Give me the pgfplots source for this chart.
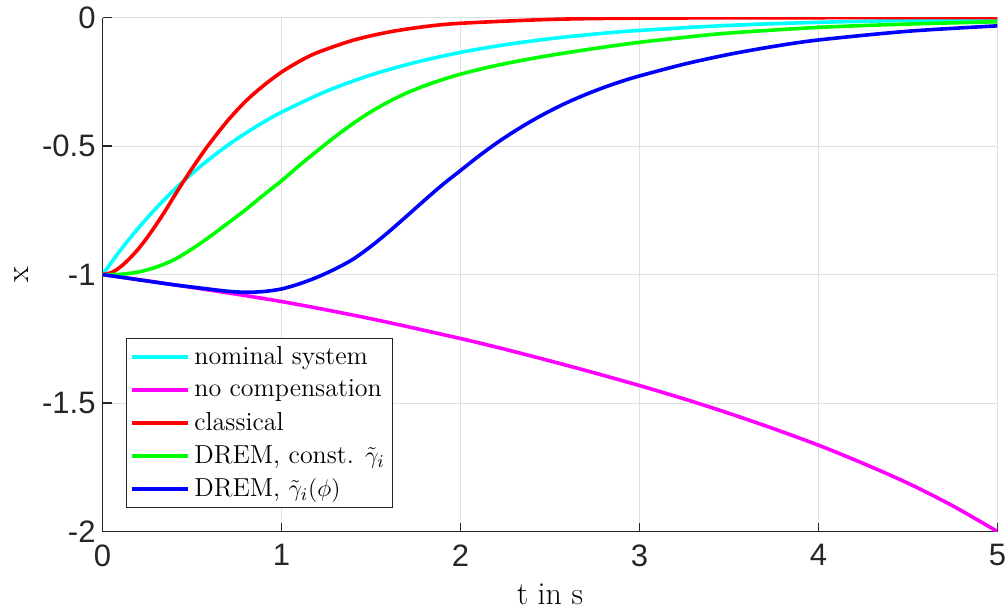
\documentclass[border=0pt]{standalone}
\usepackage{fontspec}
\usepackage{pgfplots}
\pgfplotsset{compat=1.18}
\newfontfamily\ticksfont{Liberation Sans}
\definecolor{axgray}{rgb}{0.15,0.15,0.15}
\definecolor{gridgray}{rgb}{0.88,0.88,0.88}
\definecolor{cyanc}{rgb}{0,1,1}
\definecolor{magc}{rgb}{1,0,1}
\definecolor{redc}{rgb}{1,0,0}
\definecolor{greenc}{rgb}{0,1,0}
\definecolor{bluec}{rgb}{0,0,1}
\begin{document}
\begin{tikzpicture}
\begin{axis}[
  scale only axis,
  width=447.5pt, height=257pt,
  xmin=0, xmax=5, ymin=-2, ymax=0,
  axis x line=bottom, axis y line=left,
  axis line style={-, draw=axgray, line width=0.6pt},
  tick align=inside, major tick length=4.5pt,
  tick style={axgray, line width=0.6pt},
  xtick={0,1,2,3,4,5}, xticklabels={0,1,2,3,4,5},
  ytick={-2,-1.5,-1,-0.5,0}, yticklabels={-2,-1.5,-1,-0.5,0},
  ticklabel style={font=\ticksfont\fontsize{15.5}{18}\selectfont, text=axgray},
  xticklabel style={yshift=-3pt, inner xsep=0pt},
  grid=major, major grid style={gridgray, line width=0.5pt},
  xlabel={t in s}, ylabel={x},
  label style={font=\fontsize{16}{19}\selectfont},
  xlabel style={yshift=-2pt},
  ylabel style={yshift=0pt},
  legend cell align=left,
  legend style={at={(0.026,0.045)}, anchor=south west, draw=axgray, line width=0.5pt,
    font=\fontsize{13}{15}\selectfont, row sep=2.2pt, inner sep=2pt},
  legend image code/.code={\draw[#1, line width=2pt] (0pt,0pt) -- (28pt,0pt);},
  every axis plot/.append style={line width=1.8pt},
]
\addplot[cyanc, smooth] coordinates {(0,-1)(0.1,-0.9048)(0.2,-0.8187)(0.3,-0.7408)(0.4,-0.6703)(0.5,-0.6065)(0.6,-0.5488)(0.7,-0.4966)(0.8,-0.4493)(0.9,-0.4066)(1,-0.3679)(1.25,-0.2865)(1.5,-0.2231)(1.75,-0.1738)(2,-0.1353)(2.25,-0.1054)(2.5,-0.0821)(2.75,-0.0639)(3,-0.0498)(3.5,-0.0302)(4,-0.0183)(4.5,-0.0111)(5,-0.0067)};
\addlegendentry{nominal system}
\addplot[magc, smooth] coordinates {(0,-1)(0.5,-1.05)(1,-1.105)(1.5,-1.172)(2,-1.249)(2.25,-1.291)(2.5,-1.336)(2.75,-1.383)(3,-1.432)(3.25,-1.484)(3.5,-1.540)(3.75,-1.600)(4,-1.664)(4.25,-1.735)(4.5,-1.812)(4.75,-1.900)(5,-2.0)};
\addlegendentry{no compensation}
\addplot[redc, smooth] coordinates {(0,-1)(0.05,-0.992)(0.1,-0.970)(0.15,-0.938)(0.2,-0.900)(0.25,-0.855)(0.3,-0.805)(0.35,-0.752)(0.4,-0.695)(0.45,-0.640)(0.5,-0.587)(0.55,-0.536)(0.6,-0.488)(0.7,-0.400)(0.8,-0.325)(0.9,-0.264)(1,-0.212)(1.1,-0.170)(1.2,-0.136)(1.4,-0.088)(1.6,-0.056)(1.8,-0.035)(2,-0.022)(2.5,-0.007)(3,-0.002)(4,-0.0003)(5,0)};
\addlegendentry{classical}
\addplot[greenc, smooth] coordinates {(0,-1)(0.1,-0.999)(0.2,-0.990)(0.3,-0.971)(0.4,-0.942)(0.5,-0.900)(0.6,-0.852)(0.7,-0.800)(0.8,-0.747)(0.9,-0.690)(1,-0.635)(1.1,-0.575)(1.2,-0.518)(1.3,-0.463)(1.4,-0.412)(1.5,-0.366)(1.6,-0.327)(1.7,-0.293)(1.8,-0.265)(1.9,-0.241)(2,-0.220)(2.15,-0.194)(2.3,-0.172)(2.5,-0.147)(2.75,-0.120)(3,-0.096)(3.25,-0.077)(3.5,-0.060)(4,-0.038)(4.5,-0.025)(5,-0.016)};
\addlegendentry{DREM, const. $\tilde{\gamma}_i$}
\addplot[bluec, smooth] coordinates {(0,-1)(0.2,-1.02)(0.4,-1.04)(0.6,-1.057)(0.7,-1.065)(0.8,-1.069)(0.9,-1.066)(1,-1.056)(1.1,-1.036)(1.2,-1.010)(1.3,-0.978)(1.4,-0.940)(1.5,-0.890)(1.6,-0.833)(1.7,-0.772)(1.8,-0.710)(1.9,-0.650)(2,-0.595)(2.1,-0.540)(2.2,-0.489)(2.3,-0.443)(2.4,-0.401)(2.5,-0.363)(2.6,-0.329)(2.7,-0.299)(2.8,-0.272)(2.9,-0.248)(3,-0.227)(3.25,-0.181)(3.5,-0.143)(3.75,-0.112)(4,-0.087)(4.5,-0.053)(5,-0.032)};
\addlegendentry{DREM, $\tilde{\gamma}_i(\phi)$}
\end{axis}
\path (current bounding box.south west) ++(-4pt,0pt);
\end{tikzpicture}
\end{document}
